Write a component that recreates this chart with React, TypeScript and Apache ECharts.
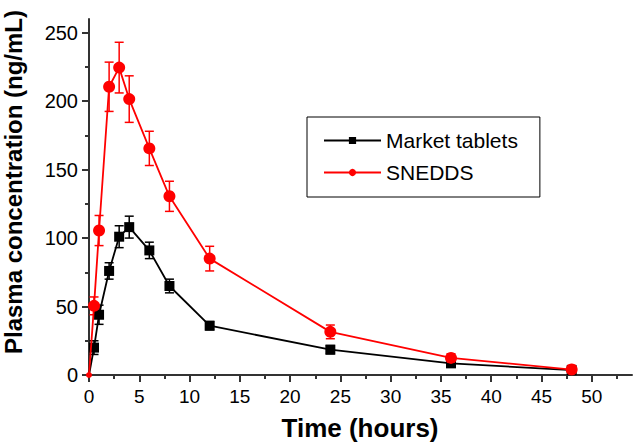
import React, { useEffect, useRef } from "react";
import * as echarts from "echarts";

const times = [0, 0.5, 1, 2, 3, 4, 6, 8, 12, 24, 36, 48];
const marketValues = [0, 20, 44, 76, 101, 108, 91, 65, 36, 18.5, 8.5, 3.5];
const marketErrors = [0, 5, 7, 6, 8, 8, 6, 5, 3, 3, 2.5, 2];
const sneddsValues = [0, 50.5, 105.5, 210.5, 224.5, 201.5, 165.5, 130.5, 85, 31.5, 12.5, 4];
const sneddsErrors = [0, 6.5, 11, 18, 18.5, 17, 12.5, 11, 9, 5, 3, 3];
const xTicks = [0, 5, 10, 15, 20, 25, 30, 35, 40, 45, 50];
const yTicks = [0, 50, 100, 150, 200, 250];

const FONT = "'Liberation Sans', Arial, sans-serif";

function errorSeries(name: string, vals: number[], errs: number[], color: string) {
  return {
    type: "custom",
    name,
    silent: true,
    z: 1,
    clip: false,
    data: times.map((t, i) => [t, vals[i] - errs[i], vals[i] + errs[i]]),
    encode: { x: 0, y: [1, 2] },
    renderItem: (params: any, api: any) => {
      const x = api.value(0);
      const lo = api.value(1);
      const hi = api.value(2);
      if (hi - lo <= 0) return null;
      const pLo = api.coord([x, lo]);
      const pHi = api.coord([x, hi]);
      const hw = 4.5;
      const style = { stroke: color, lineWidth: 1.5 };
      return {
        type: "group",
        children: [
          { type: "line", shape: { x1: pLo[0], y1: pLo[1], x2: pHi[0], y2: pHi[1] }, style },
          { type: "line", shape: { x1: pLo[0] - hw, y1: pLo[1], x2: pLo[0] + hw, y2: pLo[1] }, style },
          { type: "line", shape: { x1: pHi[0] - hw, y1: pHi[1], x2: pHi[0] + hw, y2: pHi[1] }, style },
        ],
      };
    },
  };
}

export default function App() {
  const ref = useRef<HTMLDivElement>(null);
  useEffect(() => {
    if (!ref.current) return;
    const chart = echarts.init(ref.current, undefined, { renderer: "svg" });
    const axisLineStyle = { color: "#333", width: 2 };
    chart.setOption({
      animation: false,
      backgroundColor: "#fff",
      grid: { left: 89, right: 2, top: 19, bottom: 71, containLabel: false, outerBoundsMode: "none" },
      xAxis: {
        type: "value",
        min: 0,
        max: 54,
        interval: 5,
        axisLine: { show: true, onZero: false, lineStyle: axisLineStyle },
        axisTick: { show: true, inside: false, length: 7, customValues: xTicks, lineStyle: axisLineStyle },
        minorTick: { show: true, splitNumber: 2, length: 4, lineStyle: { color: "#333", width: 2 } },
        axisLabel: { customValues: xTicks, margin: 12, fontSize: 19, color: "#000", fontFamily: FONT },
        splitLine: { show: false },
        minorSplitLine: { show: false },
      },
      yAxis: {
        type: "value",
        min: 0,
        max: 260,
        interval: 50,
        axisLine: { show: true, onZero: false, lineStyle: axisLineStyle },
        axisTick: { show: true, inside: false, length: 7, customValues: yTicks, lineStyle: axisLineStyle },
        minorTick: { show: true, splitNumber: 2, length: 4, lineStyle: { color: "#333", width: 2 } },
        axisLabel: { customValues: yTicks, margin: 11, fontSize: 20, color: "#000", fontFamily: FONT },
        splitLine: { show: false },
        minorSplitLine: { show: false },
      },
      legend: {
        orient: "vertical",
        left: 307,
        top: 117,
        data: ["Market tablets", "SNEDDS"],
        itemWidth: 57,
        itemHeight: 9,
        itemGap: 11,
        padding: [13, 22, 14, 16],
        borderColor: "#000",
        borderWidth: 1,
        textStyle: { fontSize: 21, color: "#000", fontFamily: FONT },
      },
      graphic: [
        {
          type: "text",
          x: 13,
          y: 182,
          rotation: Math.PI / 2,
          style: {
            text: "Plasma concentration (ng/mL)",
            fontSize: 24,
            fontWeight: "bold",
            fontFamily: FONT,
            fill: "#000",
            textAlign: "center",
            textVerticalAlign: "middle",
          },
        },
        {
          type: "text",
          x: 360,
          y: 428,
          style: {
            text: "Time (hours)",
            fontSize: 26,
            fontWeight: "bold",
            fontFamily: FONT,
            fill: "#000",
            textAlign: "center",
            textVerticalAlign: "middle",
          },
        },
      ],
      series: [
        errorSeries("marketErr", marketValues, marketErrors, "#000"),
        errorSeries("sneddsErr", sneddsValues, sneddsErrors, "#ff0000"),
        {
          type: "line",
          name: "Market tablets",
          data: times.map((t, i) => [t, marketValues[i]]),
          symbol: "rect",
          symbolSize: (v: number[]) => (v[0] === 0 ? 4 : 10),
          color: "#000",
          lineStyle: { color: "#000", width: 1.8 },
          itemStyle: { color: "#000" },
          z: 2,
        },
        {
          type: "line",
          name: "SNEDDS",
          data: times.map((t, i) => [t, sneddsValues[i]]),
          symbol: "circle",
          symbolSize: (v: number[]) => (v[0] === 0 ? 6 : 12),
          color: "#ff0000",
          lineStyle: { color: "#ff0000", width: 1.8 },
          itemStyle: { color: "#ff0000" },
          z: 3,
        },
      ],
    });
    return () => chart.dispose();
  }, []);
  return <div ref={ref} style={{ width: 634, height: 446, position: "absolute", left: 0, top: 0 }} />;
}
